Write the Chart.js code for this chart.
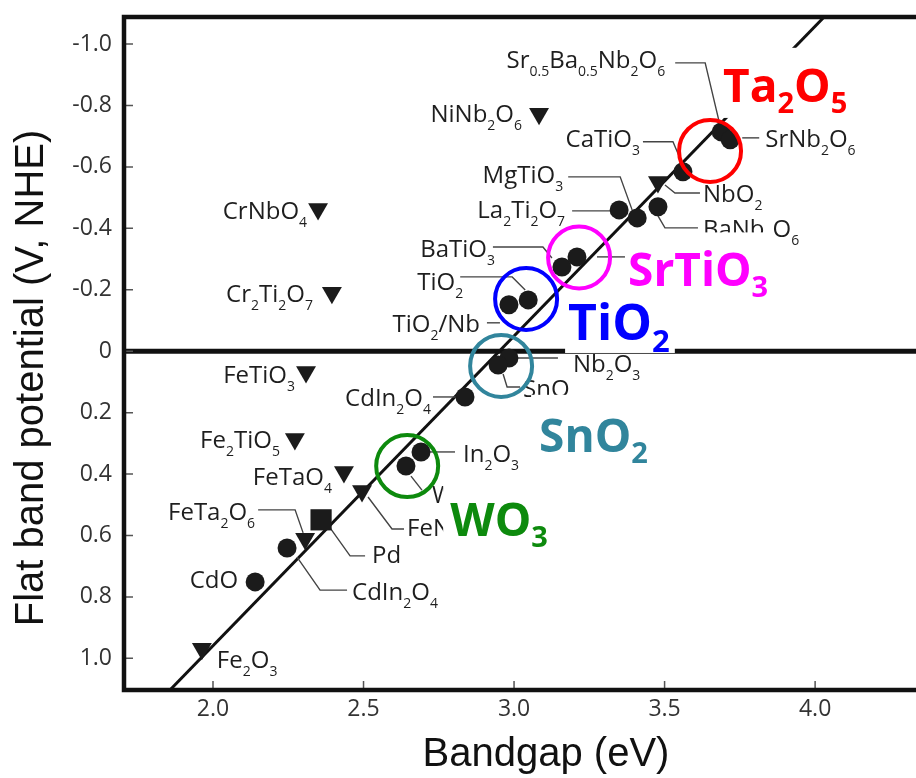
<!DOCTYPE html>
<html>

<head>
    <title>Flat band potential vs bandgap</title>
    <style>
        html, body { margin: 0; padding: 0; background: #fff; overflow: hidden; }
        .chart-container { position: relative; width: 916px; height: 778px; }
    </style>
</head>

<body>
    <div class="chart-container">
        <canvas id="fbChart"></canvas>
    </div>

    <script src="https://cdn.jsdelivr.net/npm/chart.js"></script>
    <script>
        // values: bandgap (eV) and flat band potential (V vs NHE)
        const compounds = ['Sr0.5Ba0.5Nb2O6', 'SrNb2O6', 'CaTiO3', 'MgTiO3', 'La2Ti2O7', 'BaNb2O6', 'NbO2',
            'BaTiO3', 'SrTiO3', 'TiO2', 'TiO2/Nb', 'Nb2O3', 'SnO2', 'CdIn2O4', 'In2O3', 'WO3', 'CdIn2O4', 'CdO',
            'NiNb2O6', 'CrNbO4', 'Cr2Ti2O7', 'FeTiO3', 'Fe2TiO5', 'FeTaO4', 'FeNbO4', 'FeTa2O6', 'Fe2O3', 'Pd'];
        const bandgapEv = [3.688, 3.718, 3.561, 3.409, 3.349, 3.478, 3.478,
            3.159, 3.209, 3.047, 2.983, 2.983, 2.947, 2.837, 2.691, 2.641, 2.246, 2.140,
            3.083, 2.349, 2.395, 2.309, 2.272, 2.435, 2.495, 2.306, 1.963, 2.359];
        const flatBandV = [-0.714, -0.688, -0.584, -0.434, -0.460, -0.470, -0.551,
            -0.274, -0.307, -0.167, -0.151, 0.022, 0.045, 0.149, 0.328, 0.374, 0.641, 0.751,
            -0.773, -0.463, -0.190, 0.068, 0.286, 0.393, 0.455, 0.611, 0.969, 0.549];
        const markerKind = ['circle', 'circle', 'circle', 'circle', 'circle', 'circle', 'tri',
            'circle', 'circle', 'circle', 'circle', 'circle', 'circle', 'circle', 'circle', 'circle', 'circle', 'circle',
            'tri', 'tri', 'tri', 'tri', 'tri', 'tri', 'tri', 'tri', 'tri', 'square'];

        // the straight line through the data (ends of the drawn line)
        const fitGap = [1.857, 4.030];
        const fitVfb = [1.103, -1.088];

        // highlighted materials (coloured rings)
        const highlightNames = ['Ta2O5', 'SrTiO3', 'TiO2', 'SnO2', 'WO3'];
        const highlightGap = [3.651, 3.216, 3.040, 2.957, 2.645];
        const highlightVfb = [-0.652, -0.305, -0.170, 0.048, 0.374];
        const highlightColors = ['#ff0000', '#ff00ff', '#0000ff', '#31859c', '#0d8a0d'];

        const xTicks = [2.0, 2.5, 3.0, 3.5, 4.0];
        const xTickLabels = ['2.0', '2.5', '3.0', '3.5', '4.0'];
        const yTicks = [-1.0, -0.8, -0.6, -0.4, -0.2, 0, 0.2, 0.4, 0.6, 0.8, 1.0];
        const yTickLabels = ['-1.0', '-0.8', '-0.6', '-0.4', '-0.2', '0', '0.2', '0.4', '0.6', '0.8', '1.0'];

        // label placement in pixels, relative to each marker (same order as compounds)
        const labelLayout = [
            { align: 'right', dx: -56, dy: -64, leader: [[-46, -69], [-16, -69], [-2, -10]] },
            { align: 'left', dx: 35, dy: 7, leader: [[12, -2], [29, -2]] },
            { align: 'right', dx: -43, dy: -25, leader: [[-40, -30], [-10, -30], [-1, -9]] },
            { align: 'right', dx: -74, dy: -35, leader: [[-69, -41], [-17, -41], [-4, -5]] },
            { align: 'right', dx: -54, dy: 8, leader: [[-47, 1], [-9, 1]] },
            { align: 'left', dx: 45, dy: 30, leader: [[0, 9], [7, 21], [40, 21]] },
            { align: 'left', dx: 45, dy: 20, leader: [[7, 3], [17, 11], [42, 11]] },
            { align: 'right', dx: -67, dy: -10, leader: [[-69, -20], [-19, -20], [-10, -9]] },
            { align: 'none', leader: [[20, 0], [48, 0]] },
            { align: 'right', dx: -65, dy: -10, leader: [[-68, -23], [-16, -23], [-3, -10]] },
            { align: 'right', dx: -29, dy: 27, leader: [[-22, 18], [-9, 18]] },
            { align: 'left', dx: 64, dy: 14, leader: [[9, 0], [49, 0]] },
            { align: 'left', dx: 25, dy: 32, leader: [[5, 9], [9, 22], [22, 22]] },
            { align: 'right', dx: -34, dy: 9, leader: [[-32, 0], [-9, 0]] },
            { align: 'left', dx: 42, dy: 10, leader: [[9, 0], [34, 0]] },
            { align: 'left', dx: 26, dy: 37, leader: [[5, 10], [16, 24]] },
            { align: 'left', dx: 65, dy: 52, leader: [[10, 9], [33, 42], [60, 42]] },
            { align: 'right', dx: -17, dy: 6 },
            { align: 'right', dx: -17, dy: 8 },
            { align: 'right', dx: -11, dy: 10 },
            { align: 'right', dx: -19, dy: 9 },
            { align: 'right', dx: -11, dy: 11 },
            { align: 'right', dx: -15, dy: 9 },
            { align: 'right', dx: -12, dy: 13 },
            { align: 'left', dx: 45, dy: 45, leader: [[6, 6], [30, 38], [42, 38]] },
            { align: 'right', dx: -50, dy: -19, leader: [[-47, -29], [-10, -29], [-2, -6]] },
            { align: 'left', dx: 15, dy: 19 },
            { align: 'left', dx: 51, dy: 43, leader: [[9, 8], [29, 36], [44, 36]] },
        ];

        // big coloured labels, pixels relative to ring centre; pad = [left, top, right, bottom] of white box
        const highlightLayout = [
            { dx: 13, dy: -49, size: 46, pad: [4, 21, 6, 5] },
            { dx: 49, dy: 28, size: 46, pad: [3, 20, 6, 5] },
            { dx: 42, dy: 41, size: 50, pad: [3, 8, 5, 1] },
            { dx: 38, dy: 86, size: 46, pad: [8, 24, 6, 5] },
            { dx: 43, dy: 70, size: 46, pad: [7, 22, 6, 5] },
        ];

        const SMALL = '24px "Open Sans"';
        const SMALL_SUB = '14px "Open Sans"';

        const chemParts = s => s.split(/(\d+(?:\.\d+)?)/).filter(p => p.length);

        function chemWidth(ctx, s, mainFont, subFont) {
            return chemParts(s).reduce((w, p) => {
                ctx.font = /^\d/.test(p) ? subFont : mainFont;
                return w + ctx.measureText(p).width;
            }, 0);
        }

        function drawChem(ctx, s, x, y, mainFont, subFont, drop) {
            let cx = x;
            chemParts(s).forEach(p => {
                const sub = /^\d/.test(p);
                ctx.font = sub ? subFont : mainFont;
                ctx.fillText(p, cx, sub ? y + drop : y);
                cx += ctx.measureText(p).width;
            });
        }

        const pick = kind => compounds.map((_, i) => i).filter(i => markerKind[i] === kind)
            .map(i => ({ x: bandgapEv[i], y: flatBandV[i] }));

        const annotate = {
            id: 'annotate',
            afterDatasetDraw(chart, args) {
                if (args.index !== 0) return;
                const { ctx, chartArea: area, scales: { x, y } } = chart;
                ctx.save();

                // V = 0 line
                const y0 = y.getPixelForValue(0);
                ctx.strokeStyle = '#111';
                ctx.lineWidth = 5;
                ctx.beginPath();
                ctx.moveTo(area.left, y0);
                ctx.lineTo(area.right, y0);
                ctx.stroke();

                // leader lines and compound labels
                ctx.textBaseline = 'alphabetic';
                compounds.forEach((name, i) => {
                    const px = x.getPixelForValue(bandgapEv[i]);
                    const py = y.getPixelForValue(flatBandV[i]);
                    const lay = labelLayout[i];
                    if (lay.leader) {
                        ctx.strokeStyle = '#444';
                        ctx.lineWidth = 1.4;
                        ctx.beginPath();
                        lay.leader.forEach(([dx, dy], k) => {
                            if (k === 0) ctx.moveTo(px + dx, py + dy);
                            else ctx.lineTo(px + dx, py + dy);
                        });
                        ctx.stroke();
                    }
                    if (lay.align === 'none') return;
                    const w = chemWidth(ctx, name, SMALL, SMALL_SUB);
                    const tx = lay.align === 'right' ? px + lay.dx - w : px + lay.dx;
                    ctx.fillStyle = '#1e1e1e';
                    drawChem(ctx, name, tx, py + lay.dy, SMALL, SMALL_SUB, 8);
                });

                // coloured names on white boxes
                highlightNames.forEach((name, i) => {
                    const lay = highlightLayout[i];
                    const cx = x.getPixelForValue(highlightGap[i]);
                    const cy = y.getPixelForValue(highlightVfb[i]);
                    const main = `bold ${lay.size}px "Open Sans"`;
                    const sub = `bold ${Math.round(lay.size * 0.62)}px "Open Sans"`;
                    const drop = Math.round(lay.size * 0.24);
                    const cap = lay.size * 0.72;
                    const tx = cx + lay.dx, ty = cy + lay.dy;
                    const w = chemWidth(ctx, name, main, sub);
                    ctx.fillStyle = '#fff';
                    ctx.fillRect(tx - lay.pad[0], ty - cap - lay.pad[1],
                        w + lay.pad[0] + lay.pad[2], cap + drop + lay.pad[1] + lay.pad[3]);
                    ctx.fillStyle = highlightColors[i];
                    drawChem(ctx, name, tx, ty, main, sub, drop);
                });
                ctx.restore();
            },
            afterDraw(chart) {
                const { ctx, chartArea: area, scales: { x, y } } = chart;
                ctx.save();

                // inward tick marks
                ctx.strokeStyle = '#555';
                ctx.lineWidth = 1.5;
                ctx.beginPath();
                yTicks.forEach(v => {
                    const py = y.getPixelForValue(v);
                    ctx.moveTo(area.left, py);
                    ctx.lineTo(area.left + 9, py);
                });
                xTicks.forEach(v => {
                    const px = x.getPixelForValue(v);
                    ctx.moveTo(px, area.bottom);
                    ctx.lineTo(px, area.bottom - 9);
                });
                ctx.stroke();

                // frame: left, top, bottom
                ctx.strokeStyle = '#111';
                ctx.lineWidth = 4.5;
                ctx.beginPath();
                ctx.moveTo(area.right, area.top);
                ctx.lineTo(area.left, area.top);
                ctx.lineTo(area.left, area.bottom);
                ctx.lineTo(area.right, area.bottom);
                ctx.stroke();

                // axis titles
                ctx.fillStyle = '#111';
                ctx.font = '40px "Liberation Sans"';
                ctx.textAlign = 'center';
                ctx.textBaseline = 'alphabetic';
                ctx.fillText('Bandgap (eV)', 546, 766);
                ctx.translate(43, 378);
                ctx.rotate(-Math.PI / 2);
                ctx.fillText('Flat band potential (V, NHE)', 0, 0);
                ctx.restore();
            }
        };

        const canvas = document.getElementById('fbChart');
        const chart = new Chart(canvas, {
            type: 'scatter',
            data: {
                datasets: [
                    {
                        type: 'line',
                        data: fitGap.map((g, i) => ({ x: g, y: fitVfb[i] })),
                        borderColor: '#111',
                        borderWidth: 3,
                        pointRadius: 0,
                        order: 5,
                    },
                    {
                        data: pick('circle'),
                        pointStyle: 'circle',
                        pointRadius: 9.5,
                        backgroundColor: '#1b1b1b',
                        borderWidth: 0,
                        order: 3,
                    },
                    {
                        data: pick('tri'),
                        pointStyle: 'triangle',
                        rotation: 180,
                        pointRadius: 11.5,
                        backgroundColor: '#1b1b1b',
                        borderWidth: 0,
                        order: 3,
                    },
                    {
                        data: pick('square'),
                        pointStyle: 'rect',
                        pointRadius: 15,
                        backgroundColor: '#1b1b1b',
                        borderWidth: 0,
                        order: 3,
                    },
                    {
                        data: highlightGap.map((g, i) => ({ x: g, y: highlightVfb[i] })),
                        pointStyle: 'circle',
                        pointRadius: 31,
                        backgroundColor: 'rgba(0,0,0,0)',
                        borderColor: highlightColors,
                        borderWidth: 4,
                        order: 1,
                        clip: false,
                    },
                ],
            },
            options: {
                responsive: true,
                maintainAspectRatio: false,
                animation: false,
                events: [],
                layout: { autoPadding: false, padding: { top: 17, left: 0, right: 0, bottom: 0 } },
                plugins: {
                    legend: { display: false },
                    tooltip: { enabled: false },
                },
                scales: {
                    x: {
                        type: 'linear',
                        min: 1.7044,
                        max: 4.3351,
                        grid: { display: false, drawTicks: false },
                        border: { display: false },
                        afterBuildTicks: s => { s.ticks = xTicks.map(v => ({ value: v })); },
                        afterFit: s => {
                            s.height = 88;
                            s.paddingLeft = 0;
                            s.paddingRight = 0;
                        },
                        ticks: {
                            padding: 6,
                            color: '#333',
                            font: { family: 'Open Sans', size: 23 },
                            callback: (v, i) => xTickLabels[i],
                        },
                    },
                    y: {
                        type: 'linear',
                        reverse: true,
                        min: -1.088,
                        max: 1.103,
                        grid: { display: false, drawTicks: false },
                        border: { display: false },
                        afterBuildTicks: s => { s.ticks = yTicks.map(v => ({ value: v })); },
                        afterFit: s => {
                            s.width = 124;
                            s.paddingTop = 0;
                            s.paddingBottom = 0;
                        },
                        ticks: {
                            padding: 12,
                            color: '#333',
                            font: { family: 'Open Sans', size: 23 },
                            callback: (v, i) => yTickLabels[i],
                        },
                    },
                },
            },
            plugins: [annotate],
        });
    </script>
</body>

</html>
